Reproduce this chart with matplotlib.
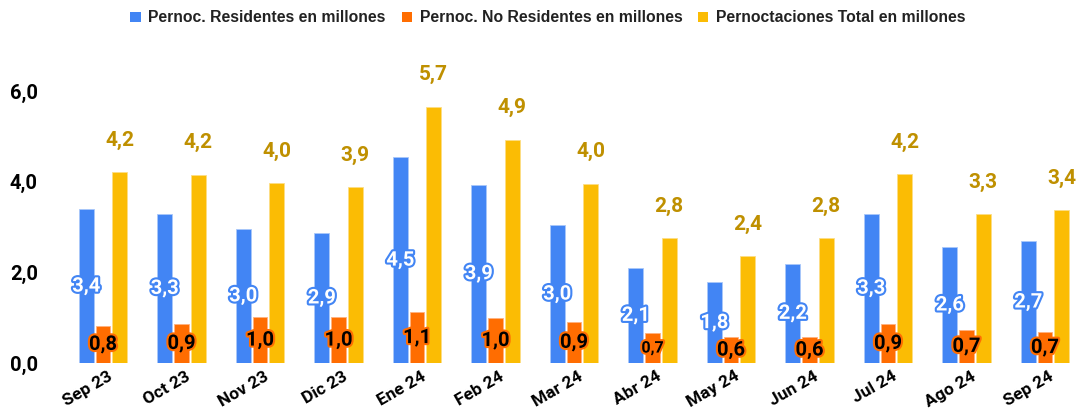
import matplotlib
matplotlib.use("Agg")
import matplotlib.pyplot as plt
import matplotlib.patheffects as pe
import matplotlib.transforms as mtransforms
from matplotlib.patches import Patch
from matplotlib.ticker import FuncFormatter, FixedLocator
import numpy as np

categories = ["Sep 23", "Oct 23", "Nov 23", "Dic 23", "Ene 24", "Feb 24", "Mar 24",
              "Abr 24", "May 24", "Jun 24", "Jul 24", "Ago 24", "Sep 24"]
residentes = [3.39, 3.29, 2.96, 2.87, 4.54, 3.94, 3.04, 2.10, 1.78, 2.19, 3.30, 2.56, 2.69]
no_residentes = [0.82, 0.86, 1.01, 1.01, 1.12, 0.99, 0.91, 0.66, 0.57, 0.57, 0.86, 0.73, 0.68]
total = [4.21, 4.16, 3.97, 3.88, 5.66, 4.93, 3.96, 2.76, 2.36, 2.76, 4.17, 3.29, 3.37]
series_names = ["Pernoc. Residentes en millones", "Pernoc. No Residentes en millones",
                "Pernoctaciones Total en millones"]
y_ticks = [0, 2, 4, 6]

BLUE = "#4285F4"
ORANGE = "#FF6D01"
YELLOW = "#FBBC04"
GOLD = "#BF9000"
NUM_FONT = ["Roboto", "DejaVu Sans"]

def fmt(v):
    return f"{v:.1f}".replace(".", ",")

W, H = 1079, 412
fig = plt.figure(figsize=(W / 100, H / 100), dpi=100)
ax_left, ax_right, ax_bottom, ax_top = 60, 1075, 363, 64
ax = fig.add_axes([ax_left / W, 1 - ax_bottom / H, (ax_right - ax_left) / W, (ax_bottom - ax_top) / H])

x = np.arange(len(categories))
bw = 0.19
step = 0.213
ax.bar(x - step, residentes, bw, color=BLUE, edgecolor="#A9C7FA", linewidth=0.6)
ax.bar(x, no_residentes, bw, color=ORANGE, edgecolor="#FFB27F", linewidth=0.6)
ax.bar(x + step, total, bw, color=YELLOW, edgecolor="#FDDD85", linewidth=0.6)

x0 = (ax_left - 103.0) / 78.5
x1 = (ax_right - 103.0) / 78.5
ax.set_xlim(x0, x1)
ax.set_ylim(0, (ax_bottom - ax_top) / 45.3)

for i in range(len(categories)):
    ax.text(x[i] - step, residentes[i] / 2, fmt(residentes[i]), ha="center", va="center",
            fontsize=14.5, fontweight="bold", family=NUM_FONT, color="white",
            path_effects=[pe.withStroke(linewidth=3, foreground=BLUE)], zorder=5)
    fs = 11.5 if i == 7 else 14.5
    ax.text(x[i], no_residentes[i] / 2, fmt(no_residentes[i]), ha="center", va="center",
            fontsize=fs, fontweight="bold", family=NUM_FONT, color="black",
            path_effects=[pe.withStroke(linewidth=3, foreground=ORANGE)], zorder=6)
    ax.annotate(fmt(total[i]), (x[i] + step, total[i]), xytext=(0, 23), textcoords="offset points",
                ha="center", va="center", fontsize=15, fontweight="bold", family=NUM_FONT,
                color=GOLD, zorder=5)

for s in ax.spines.values():
    s.set_visible(False)

ax.yaxis.set_major_locator(FixedLocator(y_ticks))
ax.yaxis.set_major_formatter(FuncFormatter(lambda v, p: fmt(v)))
ax.tick_params(axis="y", length=0, pad=16)
ax.tick_params(axis="x", length=0, pad=4)
for lab in ax.get_yticklabels():
    lab.set_fontfamily(NUM_FONT)
    lab.set_fontweight("bold")
    lab.set_fontsize(14.5)
    lab.set_color("black")

ax.set_xticks(x)
ax.set_xticklabels(categories)
offset = mtransforms.ScaledTranslation(4 / 100, 0, fig.dpi_scale_trans)
for lab in ax.get_xticklabels():
    lab.set_fontfamily(NUM_FONT)
    lab.set_fontweight("bold")
    lab.set_fontsize(12.5)
    lab.set_rotation(30)
    lab.set_ha("right")
    lab.set_va("top")
    lab.set_rotation_mode("anchor")
    lab.set_transform(lab.get_transform() + offset)

handles = [Patch(facecolor=c, edgecolor="none") for c in (BLUE, ORANGE, YELLOW)]
leg = fig.legend(handles, series_names, loc="center", bbox_to_anchor=(548 / W, 1 - 18 / H),
                 ncol=3, frameon=False, handlelength=0.65, handleheight=0.65,
                 handletextpad=0.5, columnspacing=1.0,
                 prop={"family": ["Liberation Sans", "DejaVu Sans"], "weight": "bold", "size": 11.3})
for t in leg.get_texts():
    t.set_color("#222222")

fig.savefig("out.png", dpi=100)
